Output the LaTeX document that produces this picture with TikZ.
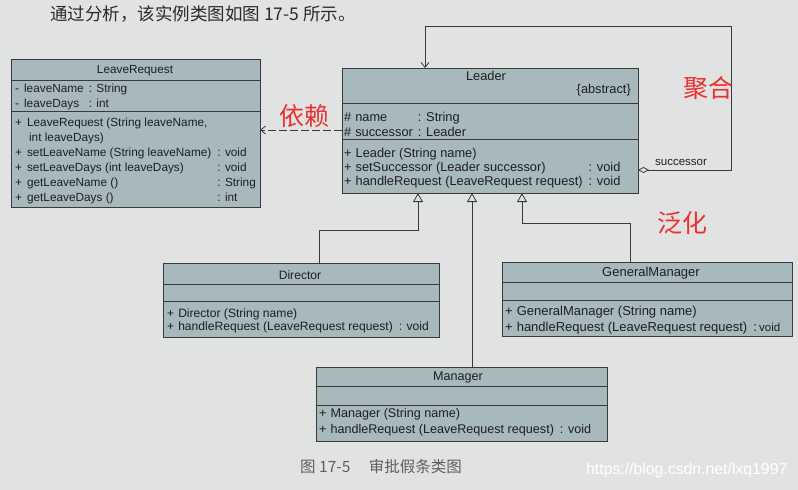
\documentclass[tikz,border=0pt]{standalone}
\usepackage{fontspec}
\setmainfont{Liberation Sans}
\newfontfamily\cjk{Noto Sans CJK SC}
\usetikzlibrary{arrows.meta}

\definecolor{paper}{HTML}{E1E3E2}
\definecolor{boxfill}{HTML}{A7B9BC}
\definecolor{ink}{HTML}{1E1E1E}
\definecolor{wire}{HTML}{3A3A3A}
\definecolor{note}{HTML}{EC3030}
\definecolor{capgray}{HTML}{5E5E5E}
\definecolor{topink}{HTML}{2A2A2A}

% font size / line pitch of a class compartment
\newcommand{\cfont}[2]{\fontsize{#1}{#2}\selectfont}

\tikzset{
  classbox/.style={draw=wire, fill=boxfill, line width=0.9pt, inner sep=0pt, outer sep=0pt, anchor=north west},
  sepline/.style={draw=wire, line width=0.9pt},
  compart/.style={anchor=base west, inner sep=0pt, text=ink},
  ctitle/.style={anchor=base, inner sep=0pt, text=ink},
  gen/.style={draw=wire, line width=0.8pt, -{Triangle[open, length=9pt, width=10pt]}},
  dep/.style={draw=wire, line width=0.8pt, dash pattern=on 8pt off 3pt, -{Straight Barb[length=5pt, width=8pt]}},
  agg/.style={draw=wire, line width=0.8pt, {Diamond[open, length=11pt, width=6pt]}-{Straight Barb[length=5pt, width=8pt]}},
  redlabel/.style={text=note, font=\cjk\fontsize{25}{25}\selectfont, inner sep=0pt},
}

\begin{document}
\begin{tikzpicture}[x=1pt, y=-1pt]
  % page
  \fill[paper] (0,0) rectangle (798,490);
  \useasboundingbox (0,0) rectangle (798,490);

  \node[anchor=west, inner sep=0pt, text=topink, font=\cjk\fontsize{17.5}{17.5}\selectfont] (intro) at (50,14)
    {通过分析，该实例类图如图 17-5 所示。};

  % ---------------- LeaveRequest ----------------
  \node[classbox, minimum width=249pt, minimum height=148pt] (lr) at (11,59) {};
  \draw[sepline] (lr.west |- 0,80) -- (lr.east |- 0,80);
  \draw[sepline] (lr.west |- 0,111) -- (lr.east |- 0,111);
  \node[ctitle, font=\cfont{11.8}{15}] (lrT) at (135,73) {LeaveRequest};
  \node[compart, font=\cfont{11.8}{15}] (lrA) at (15,92)
    {\begin{tabular}[t]{@{}l@{\hspace{5pt}}l@{\hspace{5pt}}l@{}}
      - & leaveName & : String\\
      - & leaveDays & : int
     \end{tabular}};
  \node[compart, font=\cfont{11.8}{15.1}] (lrM) at (15,126)
    {\begin{tabular}[t]{@{}l@{\hspace{5pt}}l@{\hspace{6pt}}l@{}}
      + & LeaveRequest (String leaveName, & \\
        & \hspace{2pt}int leaveDays) & \\
      + & setLeaveName (String leaveName) & : void\\
      + & setLeaveDays (int leaveDays) & : void\\
      + & getLeaveName () & : String\\
      + & getLeaveDays () & : int
     \end{tabular}};

  % ---------------- Leader ----------------
  \node[classbox, minimum width=296pt, minimum height=125pt] (leader) at (342,68) {};
  \draw[sepline] (leader.west |- 0,103) -- (leader.east |- 0,103);
  \draw[sepline] (leader.west |- 0,139) -- (leader.east |- 0,139);
  \node[ctitle, font=\cfont{12.8}{13}] (leaderT) at (486,80) {Leader};
  \node[anchor=base east, inner sep=0pt, text=ink, font=\cfont{12.8}{13}] (leaderS) at (631,93) {\{abstract\}};
  \node[compart, font=\cfont{12.8}{15}] (leaderA) at (344,121)
    {\begin{tabular}[t]{@{}l@{\hspace{4pt}}l@{\hspace{5pt}}l@{}}
      \# & name & : String\\
      \# & successor & : Leader
     \end{tabular}};
  \node[compart, font=\cfont{12.8}{14}] (leaderM) at (344,157)
    {\begin{tabular}[t]{@{}l@{\hspace{4pt}}l@{\hspace{6pt}}l@{}}
      + & Leader (String name) & \\
      + & setSuccessor (Leader successor) & : void\\
      + & handleRequest (LeaveRequest request) & : void
     \end{tabular}};

  % ---------------- Director ----------------
  \node[classbox, minimum width=276pt, minimum height=74pt] (dir) at (163,263) {};
  \draw[sepline] (dir.west |- 0,284) -- (dir.east |- 0,284);
  \draw[sepline] (dir.west |- 0,301) -- (dir.east |- 0,301);
  \node[ctitle, font=\cfont{12.1}{13}] (dirT) at (300,279) {Director};
  \node[compart, font=\cfont{12.1}{13.5}] (dirM) at (167,317)
    {\begin{tabular}[t]{@{}l@{\hspace{4pt}}l@{\hspace{6pt}}l@{}}
      + & Director (String name) & \\
      + & handleRequest (LeaveRequest request) & : void
     \end{tabular}};

  % ---------------- GeneralManager ----------------
  \node[classbox, minimum width=290pt, minimum height=74pt] (gm) at (502,262) {};
  \draw[sepline] (gm.west |- 0,282) -- (gm.east |- 0,282);
  \draw[sepline] (gm.west |- 0,300) -- (gm.east |- 0,300);
  \node[ctitle, font=\cfont{13}{13}] (gmT) at (651,276) {GeneralManager};
  \node[compart, font=\cfont{13}{16}] (gmM) at (505,315)
    {\begin{tabular}[t]{@{}l@{\hspace{4pt}}l@{\hspace{6pt}}l@{}}
      + & GeneralManager (String name) & \\
      + & handleRequest (LeaveRequest request) & :\,{\fontsize{11.5}{16}\selectfont void}
     \end{tabular}};

  % ---------------- Manager ----------------
  \node[classbox, minimum width=291pt, minimum height=74pt] (mgr) at (316,367) {};
  \draw[sepline] (mgr.west |- 0,386) -- (mgr.east |- 0,386);
  \draw[sepline] (mgr.west |- 0,405) -- (mgr.east |- 0,405);
  \node[ctitle, font=\cfont{12.6}{13}] (mgrT) at (458,380) {Manager};
  \node[compart, font=\cfont{12.6}{16.5}] (mgrM) at (319,417)
    {\begin{tabular}[t]{@{}l@{\hspace{4pt}}l@{\hspace{6pt}}l@{}}
      + & Manager (String name) & \\
      + & handleRequest (LeaveRequest request) & : void
     \end{tabular}};

  % ---------------- relations ----------------
  % dependency Leader -> LeaveRequest
  \draw[dep] (leader.west |- 0,130) -- (lr.east |- 0,130);

  % self aggregation on Leader (successor)
  \coordinate (loopSE) at (731,170);
  \coordinate (loopNE) at (731,26);
  \coordinate (loopNW) at (425,26);
  \draw[agg] (leader.east |- loopSE) -- (loopSE) -- (loopNE) -- (loopNW) -- (leader.north -| loopNW);
  \node[inner sep=0pt, text=ink, font=\cfont{11.5}{12}] (succ) at (681,162) {successor};

  % generalizations
  \coordinate (dirBend) at (418,230);
  \coordinate (gmBend) at (522,223);
  \draw[gen] (dir.north -| 319,0) |- (dirBend) -- (leader.south -| dirBend);
  \draw[gen] (mgr.north -| 472,0) -- (leader.south -| 472,0);
  \draw[gen] (gm.north -| 630,0) |- (gmBend) -- (leader.south -| gmBend);

  % hand-written notes
  \node[redlabel] (noteDep) at (304,116) {依赖};
  \node[redlabel] (noteAgg) at (708,88) {聚合};
  \node[redlabel] (noteGen) at (682,223) {泛化};

  % caption and watermark
  \node[anchor=west, inner sep=0pt, text=capgray, font=\cjk\fontsize{15.5}{15.5}\selectfont] (cap) at (300,467)
    {图 17-5\hspace{1.2em}审批假条类图};
  \node[anchor=west, inner sep=0pt, text=white, font=\fontsize{15.8}{16}\selectfont] (wm) at (586,470)
    {https://blog.csdn.net/lxq1997};
\end{tikzpicture}
\end{document}
